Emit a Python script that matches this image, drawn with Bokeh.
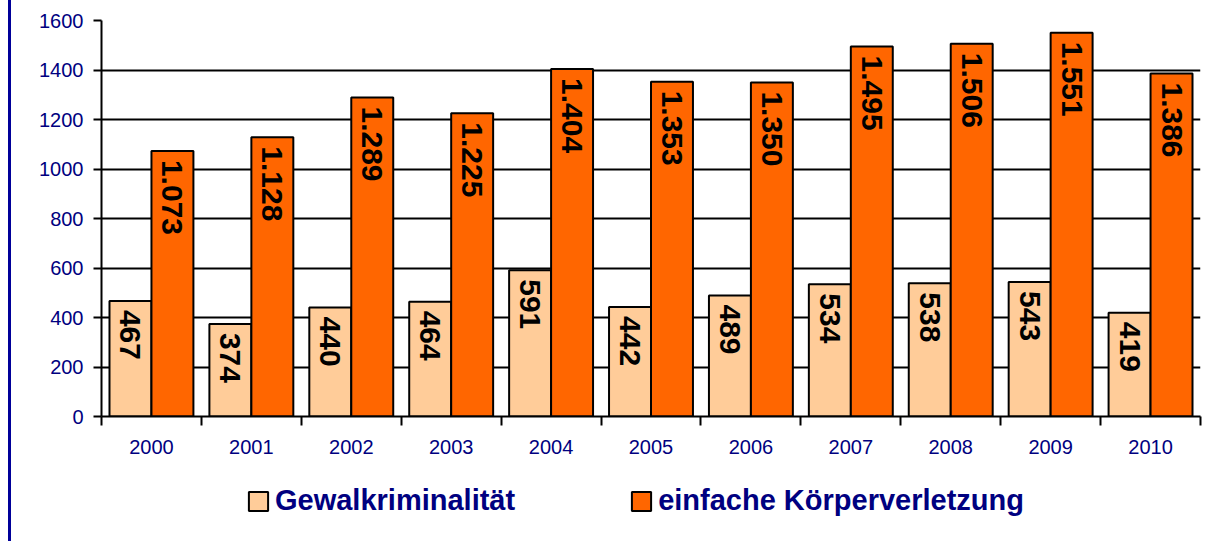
import math
from bokeh.plotting import figure
from bokeh.layouts import column
from bokeh.models import ColumnDataSource, FixedTicker, Legend, LegendItem
from bokeh.core.properties import value
from bokeh.embed import file_html
from bokeh.resources import INLINE

years = ["2000", "2001", "2002", "2003", "2004", "2005", "2006", "2007", "2008", "2009", "2010"]
gewalt = [467, 374, 440, 464, 591, 442, 489, 534, 538, 543, 419]
koerper = [1073, 1128, 1289, 1225, 1404, 1353, 1350, 1495, 1506, 1551, 1386]
y_ticks = [0, 200, 400, 600, 800, 1000, 1200, 1400, 1600]
series_names = ["Gewalkriminalität", "einfache Körperverletzung"]

LIGHT = "#FFCC99"
ORANGE = "#FF6600"
NAVY = "#000080"
FONT = "Liberation Sans"


def de_fmt(v):
    return f"{v:,}".replace(",", ".")


idx = list(range(len(years)))
src_g = ColumnDataSource(dict(x=[i + 0.29 for i in idx], top=gewalt,
                              label=[de_fmt(v) for v in gewalt]))
src_k = ColumnDataSource(dict(x=[i + 0.71 for i in idx], top=koerper,
                              label=[de_fmt(v) for v in koerper]))

p = figure(frame_width=1099, frame_height=396,
           x_range=(0, len(years)), y_range=(0, 1600),
           output_backend="svg", toolbar_location=None,
           min_border_left=90, min_border_top=20, min_border_right=6,
           min_border_bottom=60)
p.outline_line_color = None
p.background_fill_color = "white"
p.border_fill_color = "white"

# grid
p.xgrid.grid_line_color = None
p.ygrid.ticker = FixedTicker(ticks=y_ticks)
p.ygrid.grid_line_color = "black"
p.ygrid.grid_line_width = 2

r_g = p.vbar(x="x", top="top", bottom=0, width=0.42, source=src_g,
             fill_color=LIGHT, line_color="black", line_width=2)
r_k = p.vbar(x="x", top="top", bottom=0, width=0.42, source=src_k,
             fill_color=ORANGE, line_color="black", line_width=2)

for src in (src_g, src_k):
    p.text(x="x", y="top", text="label", source=src, angle=-math.pi / 2,
           text_align="left", text_baseline="middle", y_offset=9,
           text_font=value(FONT), text_font_style="bold",
           text_font_size="30px", text_color="black")

# y axis
ya = p.yaxis[0]
ya.ticker = FixedTicker(ticks=y_ticks)
ya.axis_line_color = "black"
ya.axis_line_width = 2
ya.major_tick_line_color = "black"
ya.major_tick_line_width = 2
ya.major_tick_out = 8
ya.major_tick_in = 0
ya.minor_tick_line_color = None
ya.major_label_standoff = 10
ya.major_label_text_font = FONT
ya.major_label_text_font_size = "20px"
ya.major_label_text_color = NAVY

# x axis
xa = p.xaxis[0]
xa.ticker = FixedTicker(ticks=[i + 0.5 for i in idx],
                        minor_ticks=list(range(len(years) + 1)))
xa.major_label_overrides = {i + 0.5: y for i, y in zip(idx, years)}
xa.axis_line_color = "black"
xa.axis_line_width = 2
xa.major_tick_line_color = None
xa.major_tick_out = 0
xa.major_tick_in = 0
xa.minor_tick_line_color = "black"
xa.minor_tick_line_width = 2
xa.minor_tick_out = 9
xa.minor_tick_in = 0
xa.major_label_standoff = 14
xa.major_label_text_font = FONT
xa.major_label_text_font_size = "20px"
xa.major_label_text_color = NAVY

# legend panel (separate strip below the chart)
pl = figure(frame_width=1195, frame_height=65, x_range=(0, 1), y_range=(0, 1),
            output_backend="svg", toolbar_location=None,
            min_border_left=0, min_border_right=0, min_border_top=0,
            min_border_bottom=0)
pl.axis.visible = False
pl.grid.visible = False
pl.outline_line_color = None
pl.border_fill_color = "white"
pl.background_fill_color = "white"
# legend proxies: one point each, placed outside the visible range
lg_g = pl.vbar(x=[5], top=[0.5], width=0.1,
               fill_color=LIGHT, line_color="black", line_width=2)
lg_k = pl.vbar(x=[5], top=[0.5], width=0.1,
               fill_color=ORANGE, line_color="black", line_width=2)

legend = Legend(items=[LegendItem(label=series_names[0], renderers=[lg_g]),
                       LegendItem(label=series_names[1], renderers=[lg_k])],
                orientation="horizontal", location=(235, 24),
                border_line_color=None, background_fill_alpha=0,
                padding=0, margin=0, spacing=114, label_standoff=5,
                glyph_width=24, glyph_height=24,
                label_text_font=FONT, label_text_font_style="bold",
                label_text_font_size="29px", label_text_color=NAVY)
pl.add_layout(legend, "center")

layout = column(p, pl, spacing=0,
                styles={"border-left": "3px solid #000099", "margin-left": "8px"})

open("out.html", "w").write(file_html(layout, INLINE))
